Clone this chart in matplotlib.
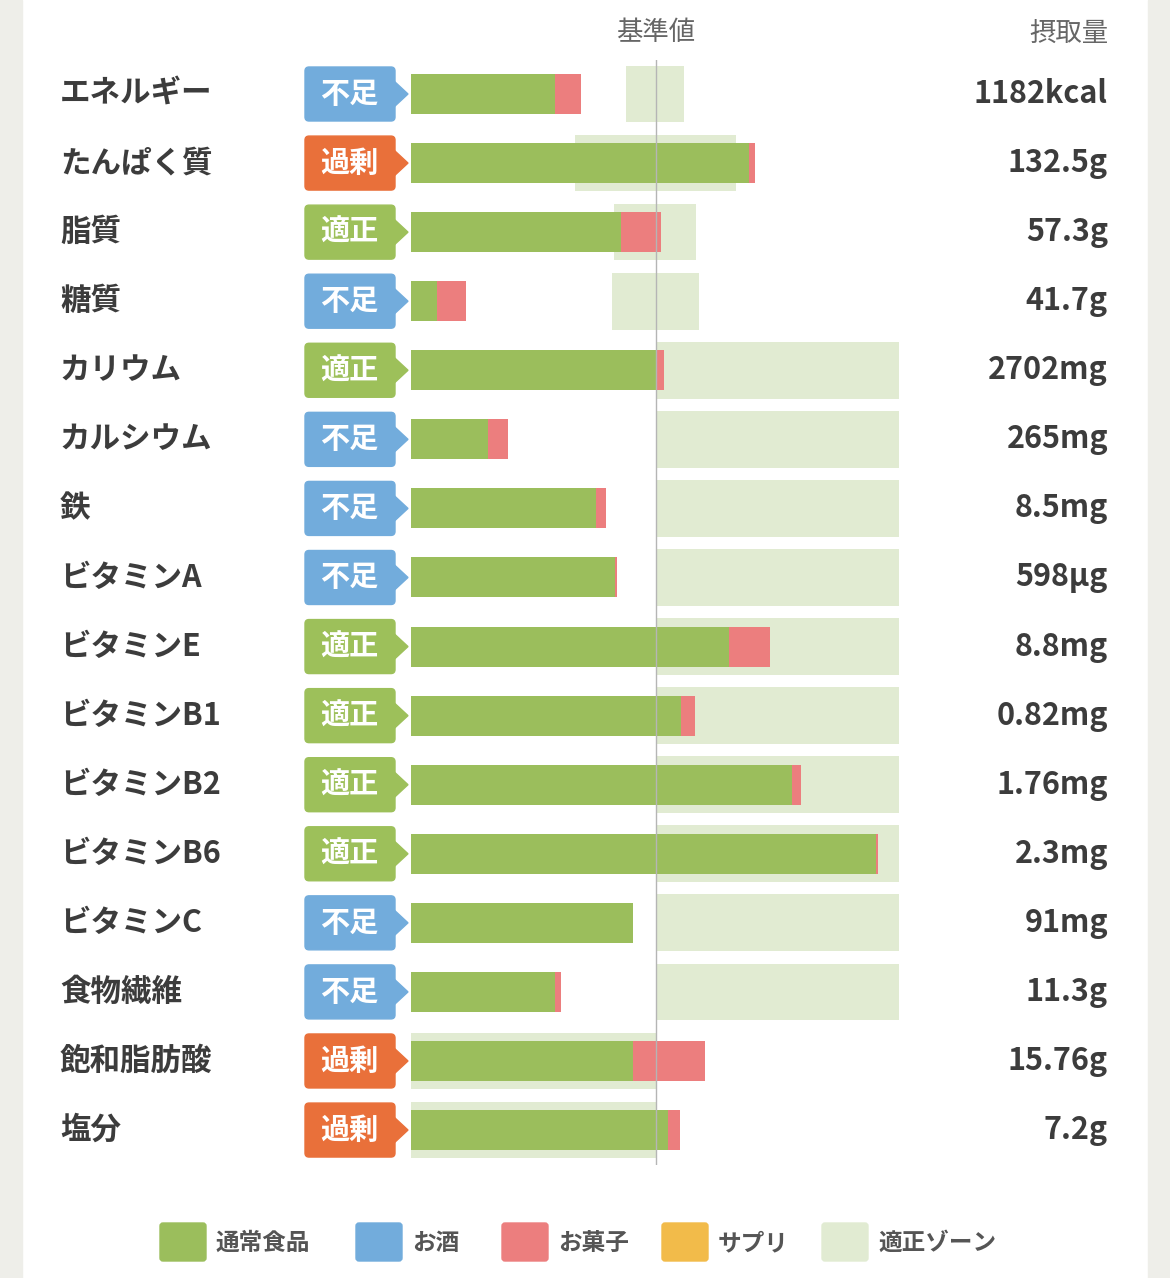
import matplotlib.pyplot as plt
from matplotlib.patches import Polygon, Rectangle, FancyBboxPatch

plt.rcParams['font.family'] = ['Noto Sans CJK JP', 'DejaVu Sans']

# values are percent of the reference value (基準値 = 100)
nutrients = ["エネルギー", "たんぱく質", "脂質", "糖質", "カリウム", "カルシウム", "鉄",
             "ビタミンA", "ビタミンE", "ビタミンB1", "ビタミンB2", "ビタミンB6",
             "ビタミンC", "食物繊維", "飽和脂肪酸", "塩分"]
status = ["不足", "過剰", "適正", "不足", "適正", "不足", "不足", "不足",
          "適正", "適正", "適正", "適正", "不足", "不足", "過剰", "過剰"]
amounts = ["1182kcal", "132.5g", "57.3g", "41.7g", "2702mg", "265mg", "8.5mg",
           "598µg", "8.8mg", "0.82mg", "1.76mg", "2.3mg", "91mg", "11.3g",
           "15.76g", "7.2g"]
normal_food = [58.8, 138.0, 85.7, 10.6, 100.4, 31.4, 75.5, 83.3, 129.8, 110.2,
               155.5, 189.8, 90.6, 58.8, 90.6, 104.9]
sweets = [10.6, 2.4, 16.3, 11.8, 2.9, 8.2, 4.1, 0.8, 16.7, 5.7, 3.7, 0.8, 0.0,
          2.4, 29.4, 4.9]
zone_lo = [87.8, 66.9, 82.9, 82.0] + [100.0] * 10 + [0.0, 0.0]
zone_hi = [111.4, 132.7, 116.3, 117.6] + [199.2] * 10 + [100.0, 100.0]

GREEN = "#9bbe5c"
PINK = "#ec7e7e"
ZONE = "#e1ebd2"
badge_colors = {"不足": "#72acdc", "過剰": "#e9703a", "適正": "#9dc05a"}

W, H = 1170, 1278
fig = plt.figure(figsize=(W / 100, H / 100), dpi=100)
fig.patch.set_facecolor("white")

# pixel overlay for labels, badges, panel edges
ov = fig.add_axes([0, 0, 1, 1])
ov.set_xlim(0, W)
ov.set_ylim(H, 0)
ov.axis("off")
ov.add_patch(Rectangle((0, 0), 22, H, color="#eeeee9", zorder=0))
ov.add_patch(Rectangle((1148, 0), 22, H, color="#eeeee9", zorder=0))

# bar axes: x in percent of reference, y in row index
x0, x1 = 411, 899
top, bot = 60, 1165
ax = fig.add_axes([x0 / W, 1 - bot / H, (x1 - x0) / W, (bot - top) / H])
ax.set_xlim(0, 199.2)
ax.set_ylim(15 + (bot - 1130) / 69.07, -(94 - top) / 69.07)
ax.axis("off")
ax.patch.set_alpha(0)
ax.set_clip_on(False)

rows = range(len(nutrients))
ax.barh(rows, [h - l for l, h in zip(zone_lo, zone_hi)], left=zone_lo,
        height=0.82, color=ZONE, zorder=1)
ax.barh(rows, normal_food, height=0.58, color=GREEN, zorder=2)
ax.barh(rows, sweets, left=normal_food, height=0.58, color=PINK, zorder=2)
ax.axvline(100, color="#b5b5b5", lw=1, zorder=3, ymin=0, ymax=1)

for i, (name, st, amt) in enumerate(zip(nutrients, status, amounts)):
    yc = 94 + 69.07 * i
    ov.text(60, yc, name, fontsize=22, fontweight="bold", color="#3c3c3c",
            va="center", ha="left")
    ov.text(1108, yc, amt, fontsize=22, fontweight="bold", color="#3c3c3c",
            va="center", ha="right")
    c = badge_colors[st]
    ov.add_patch(FancyBboxPatch((305, yc - 27), 90, 54,
                                boxstyle="round,pad=0,rounding_size=4",
                                color=c, zorder=2))
    ov.add_patch(Polygon([(394, yc - 13), (408, yc), (394, yc + 13)],
                         color=c, zorder=2))
    ov.text(349, yc, st, fontsize=21, fontweight="bold", color="white",
            va="center", ha="center", zorder=3)

ov.text(656, 33, "基準値", fontsize=19, color="#666666", ha="center", va="center")
ov.text(1108, 33, "摂取量", fontsize=19, color="#666666", ha="right", va="center")

legend_items = [("通常食品", GREEN, 160), ("お酒", "#72acdc", 356),
                ("お菓子", PINK, 502), ("サプリ", "#f2bb4a", 662),
                ("適正ゾーン", ZONE, 822)]
for label, col, lx in legend_items:
    ov.add_patch(FancyBboxPatch((lx, 1223), 46, 38,
                                boxstyle="round,pad=0,rounding_size=3", color=col))
    ov.text(lx + 56, 1243, label, fontsize=17, fontweight="bold",
            color="#555555", va="center", ha="left")

fig.savefig("out.png", dpi=100)
